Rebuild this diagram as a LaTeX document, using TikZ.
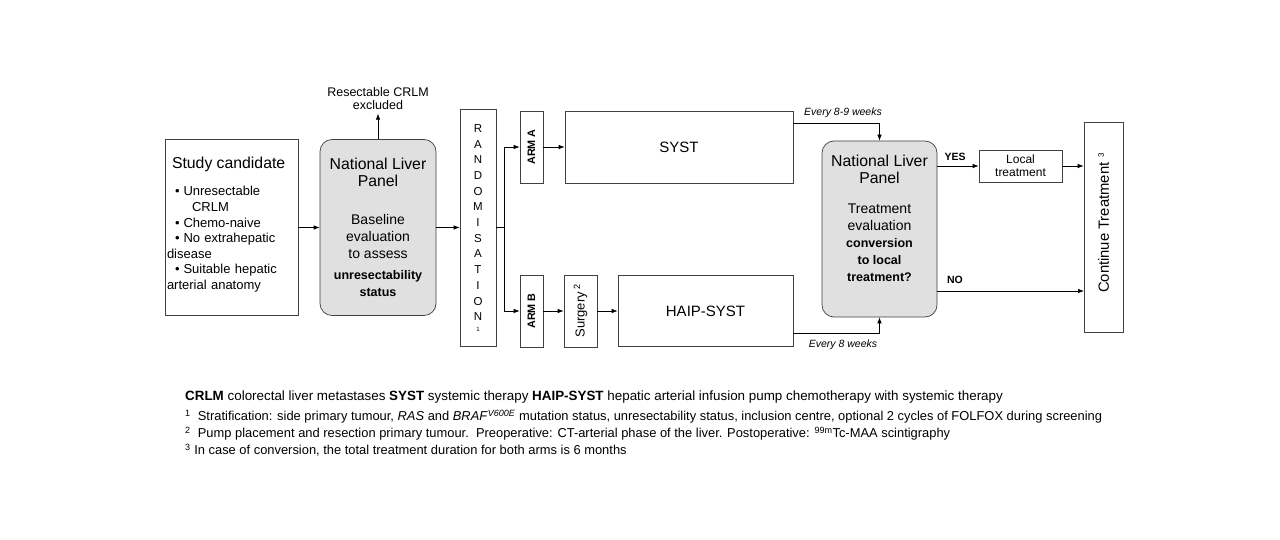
\documentclass[tikz,border=0pt]{standalone}
\usepackage{fontspec}
\setmainfont{Liberation Sans}
\usetikzlibrary{arrows.meta}

\newcommand\tgrande{\fontsize{15.8}{17}\selectfont}
\newcommand\tmedio{\fontsize{14}{17}\selectfont}
\newcommand\tnegrito{\fontsize{12.5}{17}\selectfont\bfseries}

\begin{document}
\begin{tikzpicture}[
	x=1pt, y=-1pt,
	>={Latex[length=6pt,width=4.5pt]},
	caixa/.style={draw=black!75, line width=0.7pt, inner sep=2pt},
	painel/.style={caixa, fill=black!12, rounded corners=12pt, align=center,
		minimum width=116, minimum height=176, font=\tmedio},
	braco/.style={caixa, rotate=90, minimum width=72, minimum height=23,
		font=\fontsize{10.8}{12}\selectfont\bfseries},
	seta/.style={->, line width=0.7pt},
	rotulo/.style={font=\fontsize{10.5}{12}\selectfont\bfseries},
	tempo/.style={font=\fontsize{10.5}{12}\selectfont\itshape},
	nota/.style={anchor=west, inner sep=0pt, font=\fontsize{12.9}{15}\selectfont}
	]
	\useasboundingbox (0,0) rectangle (1280,540);

	% inclusao
	\node[caixa, minimum width=133, minimum height=176, text width=129, align=left,
		font=\fontsize{13}{15.6}\selectfont] (estudo) at (231.5,227.5) {%
		{\tgrande\hspace*{5pt}Study candidate}\\[12pt]
		\hspace*{8pt}\textbullet\hspace{4pt}Unresectable\\
		\hspace*{25pt}CRLM\\
		\hspace*{8pt}\textbullet\hspace{4pt}Chemo-naive\\
		\hspace*{8pt}\textbullet\hspace{4pt}No extrahepatic\\
		disease\\
		\hspace*{8pt}\textbullet\hspace{4pt}Suitable hepatic\\
		arterial anatomy\\[-7pt]\mbox{}};
	\node[painel] (painel1) at (378,227.5) {%
		{\tgrande National Liver}\\{\tgrande Panel}\\[21pt]
		Baseline\\evaluation\\to assess\\[4pt]
		{\tnegrito unresectability}\\{\tnegrito status}};
	\node[align=center, font=\fontsize{12.5}{13}\selectfont] (excluidos) at (378,99)
		{Resectable CRLM\\excluded};

	% randomisatie
	\node[caixa, minimum width=36, minimum height=237, align=center,
		font=\fontsize{11.5}{15.7}\selectfont] (rand) at (478,227.5) {%
		\mbox{}\\[-7pt]
		R\\A\\N\\D\\O\\M\\I\\S\\A\\T\\I\\O\\N\\[-5pt]{\fontsize{6}{7}\selectfont 1}};
	\coordinate (ramo) at (504,227.5);

	% bracos
	\node[braco] (bracoA) at (531.5,147) {ARM A};
	\node[braco] (bracoB) at (531.5,311) {ARM B};
	\node[caixa, minimum width=228, minimum height=72,
		font=\fontsize{15}{17}\selectfont] (syst) at (679,147) {SYST};
	\node[caixa, rotate=90, minimum width=72, minimum height=33,
		font=\fontsize{13}{15}\selectfont] (cirurgia) at (580.5,311)
		{Surgery\,\textsuperscript{2}};
	\node[caixa, minimum width=175, minimum height=71,
		font=\fontsize{15}{17}\selectfont] (haip) at (705.5,311) {HAIP-SYST};

	% avaliacao
	\node[painel, minimum width=115] (painel2) at (879.5,229) {%
		{\tgrande National Liver}\\{\tgrande Panel}\\[13pt]
		Treatment\\evaluation\\
		{\tnegrito conversion}\\{\tnegrito to local}\\{\tnegrito treatment?}\\[5pt]~};
	\node[caixa, minimum width=83, minimum height=32, align=center,
		font=\fontsize{12}{13}\selectfont] (local) at (1020.5,166) {Local\\treatment};
	\node[caixa, rotate=90, minimum width=210, minimum height=39,
		font=\fontsize{14.8}{17}\selectfont] (continua) at (1103.5,227)
		{\hspace*{8pt}Continue Treatment\hspace{5pt}\raisebox{5pt}{\fontsize{8}{9}\selectfont 3}};
	\coordinate (nao) at (1084,291);

	\node[tempo] (cada89) at (843,113) {Every 8-9 weeks};
	\node[tempo] (cada8) at (843,345) {Every 8 weeks};
	\node[rotulo] (sim) at (955,157) {YES};
	\node[rotulo] (naorot) at (955,280) {NO};

	\draw[seta] (estudo) -- (painel1);
	\draw[seta] (painel1) -- (excluidos);
	\draw[seta] (painel1) -- (rand);
	\draw[line width=0.7pt] (rand) -- (ramo);
	\draw[seta] (ramo) |- (bracoA);
	\draw[seta] (ramo) |- (bracoB);
	\draw[seta] (bracoA) -- (syst);
	\draw[seta] (bracoB) -- (cirurgia);
	\draw[seta] (cirurgia) -- (haip);
	\draw[seta] ([yshift=24pt]syst.east) -| (painel2);
	\draw[seta] ([yshift=-22pt]haip.east) -| (painel2);
	\draw[seta] (painel2.east |- local) -- (local);
	\draw[seta] (local) -- (local -| continua.north);
	\draw[seta] (painel2.east |- nao) -- (nao);

	% legenda
	\node[nota, font=\fontsize{13.4}{15}\selectfont] (legenda) at (185,397) {\textbf{CRLM}
		colorectal liver metastases \textbf{SYST} systemic therapy \textbf{HAIP-SYST}
		hepatic arterial infusion pump chemotherapy with systemic therapy};
	\node[nota] (nota1) at (185,417) {\textsuperscript{1}\ \ Stratification: side primary
		tumour, \textit{RAS} and \textit{BRAF}\textsuperscript{\textit{V600E}} mutation
		status, unresectability status, inclusion centre, optional 2 cycles of FOLFOX
		during screening};
	\node[nota] (nota2) at (185,434) {\textsuperscript{2}\ \ Pump placement and resection
		primary tumour.\ \ Preoperative: CT-arterial phase of the liver. Postoperative:
		\textsuperscript{99m}Tc-MAA scintigraphy};
	\node[nota] (nota3) at (185,450) {\textsuperscript{3} In case of conversion, the total
		treatment duration for both arms is 6 months};
\end{tikzpicture}
\end{document}
